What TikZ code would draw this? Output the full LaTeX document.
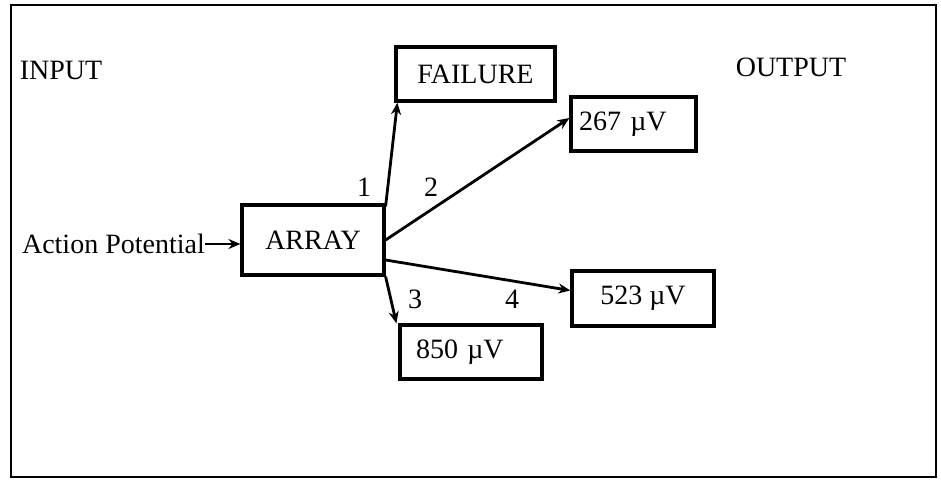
\documentclass[tikz,border=0pt]{standalone}
\usepackage{fontspec}
\setmainfont{Liberation Serif}
\usetikzlibrary{arrows.meta}
\tikzset{
  box/.style={draw, line width=3.2pt, inner sep=0pt, font=\fontsize{28}{32}\selectfont},
  txt/.style={inner sep=0pt, font=\fontsize{28}{32}\selectfont},
  con/.style={line width=2.8pt, -{Stealth[length=12pt,width=10pt]}},
}
\begin{document}
\begin{tikzpicture}[x=1pt,y=-1pt]
\useasboundingbox (0,0) rectangle (941,484);
\draw[line width=2.6pt] (11,5) rectangle (936,477);

\node[txt] (inp) at (61,70) {INPUT};
\node[txt] (outp) at (791,67) {OUTPUT};

\node[box, minimum width=142pt, minimum height=70pt] (arr) at (313,240) {ARRAY};
\node[box, minimum width=159pt, minimum height=54pt] (fail) at (475.5,74) {FAILURE};
\node[box, minimum width=125pt, minimum height=54pt, text width=109pt, align=left] (b267) at (633.5,124) {267 µV};
\node[box, minimum width=142pt, minimum height=55pt] (b523) at (643,298.5) {523 µV};
\node[box, minimum width=142pt, minimum height=54pt, text width=110pt, align=left] (b850) at (471,352) {850 µV};

\node[txt, anchor=east] (ap) at (205,244) {Action Potential};

\draw[con] (ap.east) -- (arr.west |- ap.east);
\draw[con] ([yshift=-3pt]arr.north east) -- ([xshift=3pt]fail.south west);
\draw[con] (arr.east) -- ([yshift=6pt]b267.west);
\draw[con] ([yshift=-20pt]arr.east) -- ([yshift=8pt]b523.west);
\draw[con] (arr.south east) -- ([xshift=-2pt]b850.north west);

\node[txt] (l1) at (364,187) {1};
\node[txt] (l2) at (431,187) {2};
\node[txt] (l3) at (415,299) {3};
\node[txt] (l4) at (512,299) {4};
\end{tikzpicture}
\end{document}
